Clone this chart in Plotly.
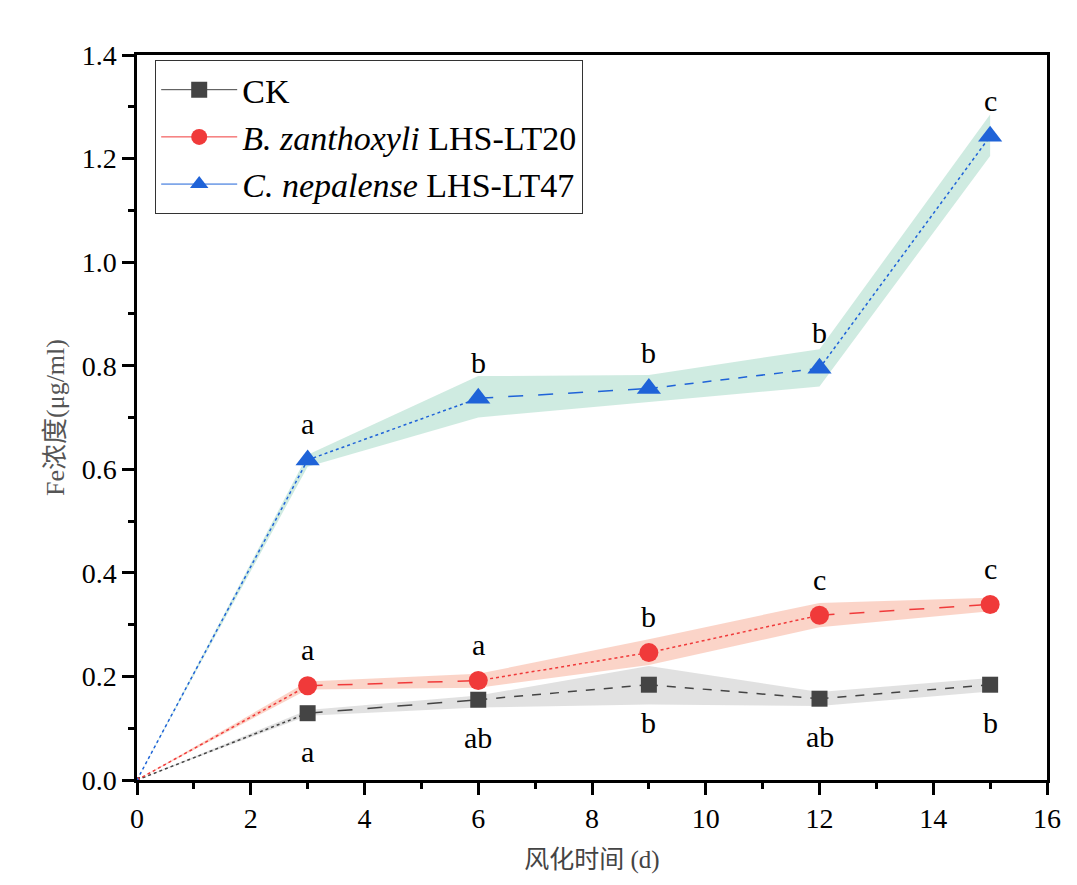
import plotly.graph_objects as go

days = [0, 3, 6, 9, 12, 15]

ck_mean = [0.0, 0.129, 0.155, 0.184, 0.157, 0.184]
ck_low = [0.0, 0.124, 0.140, 0.146, 0.143, 0.171]
ck_high = [0.0, 0.135, 0.163, 0.220, 0.170, 0.197]
ck_letters = ["", "a", "ab", "b", "ab", "b"]

bz_mean = [0.0, 0.182, 0.192, 0.246, 0.318, 0.339]
bz_low = [0.0, 0.175, 0.178, 0.222, 0.295, 0.326]
bz_high = [0.0, 0.190, 0.205, 0.272, 0.342, 0.352]
bz_letters = ["", "a", "a", "b", "c", "c"]

cn_mean = [0.0, 0.618, 0.737, 0.756, 0.795, 1.243]
cn_low = [0.0, 0.605, 0.700, 0.730, 0.760, 1.205]
cn_high = [0.0, 0.628, 0.780, 0.782, 0.832, 1.285]
cn_letters = ["", "a", "b", "b", "b", "c"]

names = ["CK", "<i>B. zanthoxyli</i> LHS-LT20", "<i>C. nepalense</i> LHS-LT47"]
xticks = [0, 2, 4, 6, 8, 10, 12, 14, 16]
yticks = [0.0, 0.2, 0.4, 0.6, 0.8, 1.0, 1.2, 1.4]

series = [
    dict(mean=ck_mean, low=ck_low, high=ck_high, letters=ck_letters, color="#444444",
         fill="rgba(200,200,200,0.55)", symbol="square", size=16, pos="below",
         dashes=["dot", "longdash", "dash", "dash", "dash"]),
    dict(mean=bz_mean, low=bz_low, high=bz_high, letters=bz_letters, color="#f03a3a",
         fill="rgba(248,170,145,0.5)", symbol="circle", size=19, pos="above",
         dashes=["dot", "longdash", "dot", "dot", "longdash"]),
    dict(mean=cn_mean, low=cn_low, high=cn_high, letters=cn_letters, color="#1f63d8",
         fill="rgba(160,215,195,0.5)", symbol="triangle-up", size=21, pos="above",
         dashes=["dot", "dot", "longdash", "dash", "dot"]),
]

fig = go.Figure()
serif = "Liberation Serif"
cjk = "Liberation Serif, Noto Sans CJK SC"

# bands
for s in series:
    fig.add_trace(go.Scatter(x=days + days[::-1], y=s["high"] + s["low"][::-1],
                             fill="toself", fillcolor=s["fill"], line=dict(width=0),
                             mode="lines", showlegend=False, hoverinfo="skip"))

# segment lines
for s in series:
    for i in range(len(days) - 1):
        fig.add_trace(go.Scatter(x=days[i:i + 2], y=s["mean"][i:i + 2], mode="lines",
                                 line=dict(color=s["color"], width=1.5, dash=s["dashes"][i]),
                                 showlegend=False, hoverinfo="skip"))

# markers + legend
for s, name in zip(series, names):
    fig.add_trace(go.Scatter(x=days[1:], y=s["mean"][1:], mode="markers",
                             marker=dict(symbol=s["symbol"], size=s["size"], color=s["color"]),
                             showlegend=False))
    fig.add_trace(go.Scatter(x=[None], y=[None], mode="lines+markers", name=name,
                             line=dict(color=s["color"], width=1),
                             marker=dict(symbol=s["symbol"], size=s["size"], color=s["color"])))
    fig.add_trace(go.Scatter(x=days[:1], y=s["mean"][:1], mode="markers",
                             marker=dict(symbol=s["symbol"], size=6, color=s["color"]),
                             showlegend=False))
    for x, y, t in zip(days, s["mean"], s["letters"]):
        if not t:
            continue
        fig.add_annotation(x=x, y=y, text=t, showarrow=False,
                           yshift=(36 if s["pos"] == "above" else -38),
                           font=dict(family=serif, size=30, color="black"))

fig.update_layout(
    width=1077, height=885,
    margin=dict(l=129, r=38, t=47, b=113),
    paper_bgcolor="white", plot_bgcolor="white",
    font=dict(family=serif, color="black"),
    legend=dict(x=0.02, y=0.993, xanchor="left", yanchor="top",
                bordercolor="#333333", borderwidth=1, bgcolor="white",
                font=dict(family=serif, size=34), itemwidth=76, tracegroupgap=0),
)
fig.update_xaxes(range=[0, 16], tickvals=xticks, ticktext=[str(v) for v in xticks],
                 ticks="outside", ticklen=12, tickwidth=2.5, tickcolor="black",
                 minor=dict(dtick=1, ticks="outside", ticklen=6, tickwidth=2.5, tickcolor="black"),
                 showline=True, linewidth=2.5, linecolor="black", mirror=True,
                 showgrid=False, zeroline=False,
                 tickfont=dict(family=serif, size=28),
                 title=dict(text="风化时间 (d)", font=dict(family=cjk, size=25, color="#444444"),
                            standoff=18))
fig.update_yaxes(range=[0, 1.4], tickvals=yticks, ticktext=[f"{v:.1f}" for v in yticks],
                 ticks="outside", ticklen=12, tickwidth=2.5, tickcolor="black",
                 minor=dict(dtick=0.1, ticks="outside", ticklen=6, tickwidth=2.5, tickcolor="black"),
                 showline=True, linewidth=2.5, linecolor="black", mirror=True,
                 showgrid=False, zeroline=False,
                 tickfont=dict(family=serif, size=28),
                 title=dict(text="Fe浓度(μg/ml)", font=dict(family=cjk, size=26, color="#555555"),
                            standoff=10))

fig.write_html("out.html")
